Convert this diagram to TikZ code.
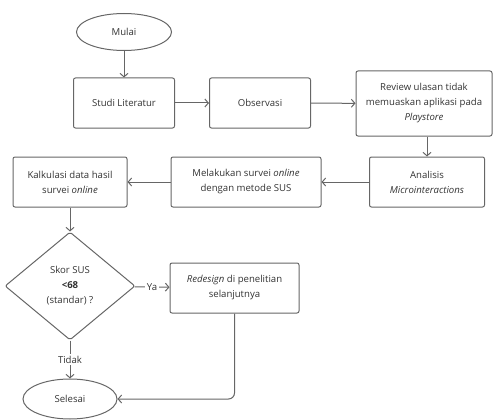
\documentclass[tikz,border=0pt]{standalone}
\usepackage{fontspec}
\setmainfont{Open Sans}
\usepackage{xcolor}
\usetikzlibrary{
  positioning,
  shapes.geometric,
  arrows.meta
}
\definecolor{linegray}{HTML}{666666}
\definecolor{textgray}{HTML}{333333}

\begin{document}
\begin{tikzpicture}[x=1pt,y=-1pt,>={Straight Barb[length=3.5pt,width=8pt]},
        every node/.style={text=textgray,font=\fontsize{9.6}{15}\selectfont,align=center},
        box/.style={draw=linegray,line width=1pt,rounded corners=2pt,inner sep=2pt,minimum height=50pt},
        terminal/.style={draw=linegray,line width=1pt,ellipse,inner sep=0pt},
        decision/.style={draw=linegray,line width=1pt,diamond,rounded corners=2pt,inner sep=0pt},
        flow/.style={->,draw=linegray,line width=1pt}]
        \useasboundingbox (0,0) rectangle (493,420);

        \node[terminal,minimum width=95pt,minimum height=37pt] (mulai) at (124,32) {Mulai};
        \node[box,minimum width=101pt] (studi) at (124,103) {Studi Literatur};
        \node[box,minimum width=101pt] (observasi) at (260,103) {Observasi};
        \node[box,minimum width=136pt,minimum height=65pt] (review) at (424,103.5) {Review ulasan tidak\\memuaskan aplikasi pada\\\textit{Playstore}};
        \node[box,minimum width=115pt] (analisis) at (427,182) {Analisis\\\textit{Microinteractions}};
        \node[box,minimum width=150pt] (survei) at (246,182) {Melakukan survei \textit{online}\\dengan metode SUS};
        \node[box,minimum width=114pt] (kalkulasi) at (70,182) {Kalkulasi data hasil\\survei \textit{online}};
        \node[decision,minimum width=130pt,minimum height=108pt] (skor) at (70,286) {Skor SUS\\\textbf{<68}\\(standar) ?};
        \node[box,minimum width=129pt] (redesign) at (234.5,288) {\textit{Redesign} di penelitian\\selanjutnya};
        \node[terminal,minimum width=94pt,minimum height=40pt] (selesai) at (70,399) {Selesai};

        \draw[flow] (mulai) -- (studi);
        \draw[flow] (studi) -- (observasi);
        \draw[flow] (observasi) -- (review);
        \draw[flow] (review.south -| analisis) -- (analisis);
        \draw[flow] (analisis) -- (survei);
        \draw[flow] (survei) -- (kalkulasi);
        \draw[flow] (kalkulasi) -- (skor);
        \draw[flow] (skor) -- node[fill=white,inner sep=2pt] {Ya} (redesign);
        \draw[flow] (skor) -- node[fill=white,inner sep=2pt] {Tidak} (selesai);
        \draw[flow,rounded corners=6pt] (redesign) |- (selesai);
    \end{tikzpicture}
\end{document}
